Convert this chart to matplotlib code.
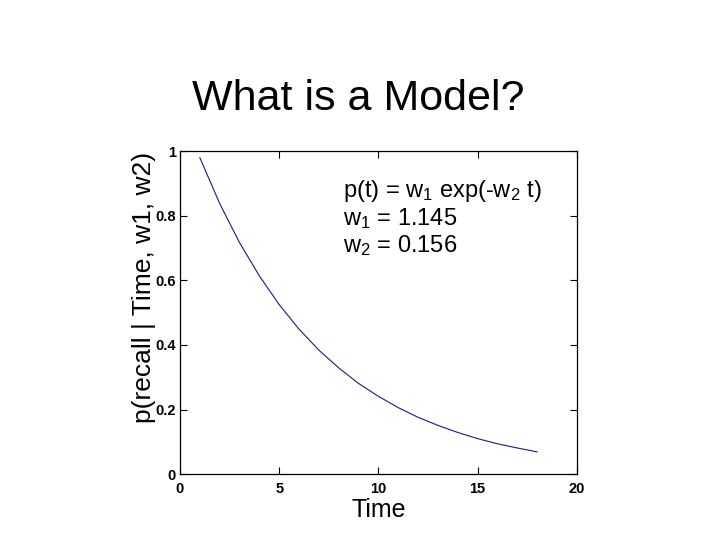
import matplotlib
matplotlib.use("Agg")
import matplotlib.pyplot as plt

time = [1, 2, 3, 4, 5, 6, 7, 8, 9, 10, 11, 12, 13, 14, 15, 16, 17, 18]
p_recall = [0.980, 0.838, 0.717, 0.614, 0.525, 0.449, 0.384, 0.329, 0.281,
            0.241, 0.206, 0.176, 0.151, 0.129, 0.110, 0.094, 0.081, 0.069]

x_ticks = [0, 5, 10, 15, 20]
y_ticks = [0, 0.2, 0.4, 0.6, 0.8, 1]
y_tick_labels = ["0", "0.2", "0.4", "0.6", "0.8", "1"]

title = "What is a Model?"
eq_lines = [r"p(t) = w$_1$ exp(-w$_2$ t)", r"w$_1$ = 1.145", r"w$_2$ = 0.156"]

plt.rcParams["font.family"] = ["Liberation Sans", "DejaVu Sans"]
plt.rcParams["mathtext.fontset"] = "custom"
plt.rcParams["mathtext.rm"] = "Liberation Sans"
plt.rcParams["mathtext.default"] = "regular"

fig = plt.figure(figsize=(7.2, 5.4), dpi=100)
ax = fig.add_axes([0.25, 0.122, 0.551, 0.598])

ax.plot(time, p_recall, color="#1a1a8c", linewidth=0.8)
ax.set_xlim(0, 20)
ax.set_ylim(0, 1)
ax.set_xticks(x_ticks)
ax.set_yticks(y_ticks)
ax.set_yticklabels(y_tick_labels)
ax.tick_params(direction="in", length=5, width=0.8, top=True, right=True,
               labelsize=10.5)
ax.tick_params(axis="x", pad=6)
ax.tick_params(axis="y", pad=3)
for lab in ax.get_xticklabels() + ax.get_yticklabels():
    lab.set_fontweight("bold")
for s in ax.spines.values():
    s.set_linewidth(0.9)

fig.text(0.497, 0.796, title, ha="center", va="baseline", fontsize=31)

ax.text(0.5, -0.133, "Time", transform=ax.transAxes, ha="center", va="baseline",
        fontsize=18)
ax.text(-0.0907, 0.579, "p(recall | Time, w1, w2)", transform=ax.transAxes,
        ha="center", va="center", rotation=90, fontsize=19)

for i, line in enumerate(eq_lines):
    ax.text(0.41, [0.858, 0.771, 0.687][i], line, transform=ax.transAxes,
            ha="left", va="baseline", fontsize=17)

fig.savefig("out.png", dpi=100)
